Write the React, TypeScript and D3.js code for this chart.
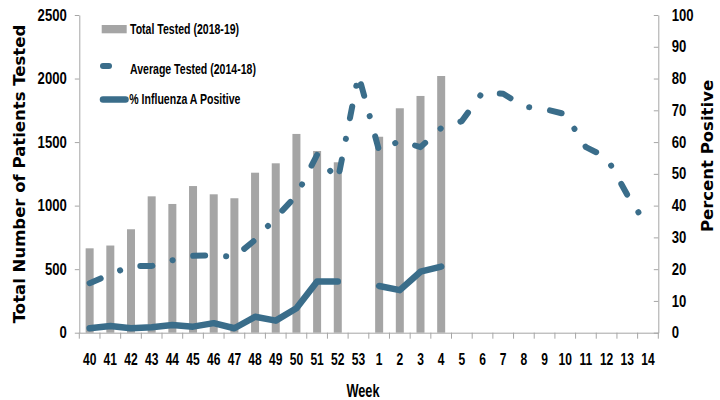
import React, { useEffect, useRef } from 'react';
import * as d3 from 'd3';

const weeks = ['40', '41', '42', '43', '44', '45', '46', '47', '48', '49', '50', '51', '52', '53',
  '1', '2', '3', '4', '5', '6', '7', '8', '9', '10', '11', '12', '13', '14'];

// Total Tested (2018-19), only through week 4
const totalTested: (number | null)[] = [664, 686, 814, 1073, 1013, 1154, 1089, 1058, 1259, 1333, 1564, 1430, 1341, null,
  1542, 1766, 1863, 2020, null, null, null, null, null, null, null, null, null, null];

// Average Tested (2014-18)
const avgTested: number[] = [390, 460, 525, 525, 570, 605, 610, 595, 730, 905, 1080, 1400, 1200, 2030,
  1430, 1510, 1460, 1610, 1665, 1890, 1880, 1780, 1760, 1720, 1460, 1380, 1085, 830];

// % Influenza A Positive (right axis)
const pctPositive: (number | null)[] = [1.4, 2.1, 1.4, 1.7, 2.4, 1.9, 3.0, 1.4, 5.0, 3.8, 7.7, 16.1, 16.1, null,
  14.7, 13.4, 19.2, 20.8, null, null, null, null, null, null, null, null, null, null];

const leftTicks = [0, 500, 1000, 1500, 2000, 2500];
const rightTicks = [0, 10, 20, 30, 40, 50, 60, 70, 80, 90, 100];

const BLUE = '#3a6d8a';
const GRAY = '#a5a5a5';
const AXIS = '#a6a6a6';
// no narrow font installed, so Liberation Sans is squeezed horizontally
const SANS = "'Liberation Sans', Arial, sans-serif";
const WIDE = "'DejaVu Sans', Verdana, sans-serif";

const App = () => {
  const ref = useRef<SVGSVGElement>(null);

  useEffect(() => {
    const svg = d3.select(ref.current);
    svg.selectAll('*').remove();

    const left = 79.3, right = 658.3, top = 15, bottom = 332.7;

    const x = d3.scaleBand<string>().domain(weeks).range([left, right]).padding(0);
    const yL = d3.scaleLinear().domain([0, 2500]).range([bottom, top]);
    const yR = d3.scaleLinear().domain([0, 100]).range([bottom, top]);

    // bars
    const barW = 8;
    svg.append('g')
      .selectAll('rect')
      .data(weeks.map((w, i) => ({ w, v: totalTested[i] })).filter(d => d.v != null))
      .enter()
      .append('rect')
      .attr('x', d => (x(d.w) as number) + x.bandwidth() / 2 - barW / 2)
      .attr('y', d => yL(d.v as number))
      .attr('width', barW)
      .attr('height', d => bottom - yL(d.v as number))
      .attr('fill', GRAY);

    // left axis
    const gl = svg.append('g')
      .attr('transform', `translate(${left},0)`)
      .call(d3.axisLeft(yL).tickValues(leftTicks).tickFormat(d3.format('d'))
        .tickSizeInner(4.5).tickSizeOuter(0).tickPadding(8));
    gl.selectAll('path, line').attr('stroke', AXIS);
    gl.selectAll('text')
      .attr('x', 0)
      .attr('transform', 'translate(-12.5,0) scale(0.82,1)')
      .attr('font-family', SANS).attr('font-size', 16)
      .attr('font-weight', 'bold').attr('fill', '#000');

    // right axis
    const gr = svg.append('g')
      .attr('transform', `translate(${right},0)`)
      .call(d3.axisRight(yR).tickValues(rightTicks).tickSizeInner(-4.5).tickSizeOuter(0).tickPadding(13.4));
    gr.selectAll('path, line').attr('stroke', AXIS);
    gr.selectAll('text')
      .attr('x', 0)
      .attr('transform', 'translate(13.4,0) scale(0.82,1)')
      .attr('font-family', SANS).attr('font-size', 16)
      .attr('font-weight', 'bold').attr('fill', '#000');

    // x axis
    const gx = svg.append('g')
      .attr('transform', `translate(0,${bottom})`)
      .call(d3.axisBottom(x).tickSize(0).tickPadding(20));
    gx.select('path').attr('stroke', AXIS);
    gx.selectAll('text')
      .attr('font-family', SANS)
      .attr('font-size', 17)
      .attr('font-weight', 'bold')
      .attr('fill', '#000')
      .attr('transform', 'scale(0.71,1)');
    // ticks between weeks
    const bounds = weeks.map(w => x(w) as number).concat([right]);
    gx.selectAll('line.sep')
      .data(bounds)
      .enter()
      .append('line')
      .attr('class', 'sep')
      .attr('x1', d => d).attr('x2', d => d)
      .attr('y1', 0).attr('y2', 6)
      .attr('stroke', AXIS);

    // average tested dashed line
    const avgLine = d3.line<number>()
      .x((_, i) => (x(weeks[i]) as number) + x.bandwidth() / 2)
      .y(d => yL(d));
    svg.append('path')
      .datum(avgTested)
      .attr('d', avgLine)
      .attr('fill', 'none')
      .attr('stroke', BLUE)
      .attr('stroke-width', 6)
      .attr('stroke-linecap', 'round')
      .attr('stroke-linejoin', 'round')
      .attr('stroke-dasharray', '12 21 0.1 21');

    // percent positive line
    const pctLine = d3.line<number | null>()
      .defined(d => d != null)
      .x((_, i) => (x(weeks[i]) as number) + x.bandwidth() / 2)
      .y(d => yR(d as number));
    svg.append('path')
      .datum(pctPositive)
      .attr('d', pctLine)
      .attr('fill', 'none')
      .attr('stroke', BLUE)
      .attr('stroke-width', 6.5)
      .attr('stroke-linecap', 'round')
      .attr('stroke-linejoin', 'round');

    // axis titles
    svg.append('text')
      .attr('transform', 'translate(25,174) rotate(-90)')
      .attr('text-anchor', 'middle')
      .attr('font-family', WIDE)
      .attr('font-weight', 'bold')
      .attr('font-size', 16.5)
      .text('Total Number of Patients Tested');
    svg.append('text')
      .attr('transform', 'translate(713,156) rotate(-90)')
      .attr('text-anchor', 'middle')
      .attr('font-family', WIDE)
      .attr('font-weight', 'bold')
      .attr('font-size', 16.5)
      .text('Percent Positive');
    svg.append('text')
      .attr('transform', 'translate(363,397) scale(0.71,1)')
      .attr('text-anchor', 'middle')
      .attr('font-family', SANS)
      .attr('font-weight', 'bold')
      .attr('font-size', 18)
      .text('Week');

    // legend
    const lg = svg.append('g');
    lg.append('rect')
      .attr('x', 101.7).attr('y', 25).attr('width', 25).attr('height', 8.3)
      .attr('fill', GRAY);
    lg.append('line')
      .attr('x1', 103).attr('x2', 109).attr('y1', 66).attr('y2', 66)
      .attr('stroke', BLUE).attr('stroke-width', 6).attr('stroke-linecap', 'round');
    lg.append('line')
      .attr('x1', 103).attr('x2', 125.5).attr('y1', 99.4).attr('y2', 99.4)
      .attr('stroke', BLUE).attr('stroke-width', 6.5).attr('stroke-linecap', 'round');
    const labels = [
      { t: 'Total Tested (2018-19)', x: 130, y: 34.3 },
      { t: 'Average Tested (2014-18)', x: 130, y: 74.3 },
      { t: '% Influenza A Positive', x: 129.3, y: 104 },
    ];
    lg.selectAll('text.lab')
      .data(labels)
      .enter()
      .append('text')
      .attr('class', 'lab')
      .attr('transform', d => `translate(${d.x},${d.y}) scale(0.68,1)`)
      .attr('font-family', SANS)
      .attr('font-weight', 'bold')
      .attr('font-size', 15.5)
      .attr('fill', '#000')
      .text(d => d.t);
  }, []);

  return (
    <svg
      ref={ref}
      width={720}
      height={400}
      style={{ position: 'absolute', left: 0, top: 0, background: '#fff' }}
    ></svg>
  );
};

export default App;
